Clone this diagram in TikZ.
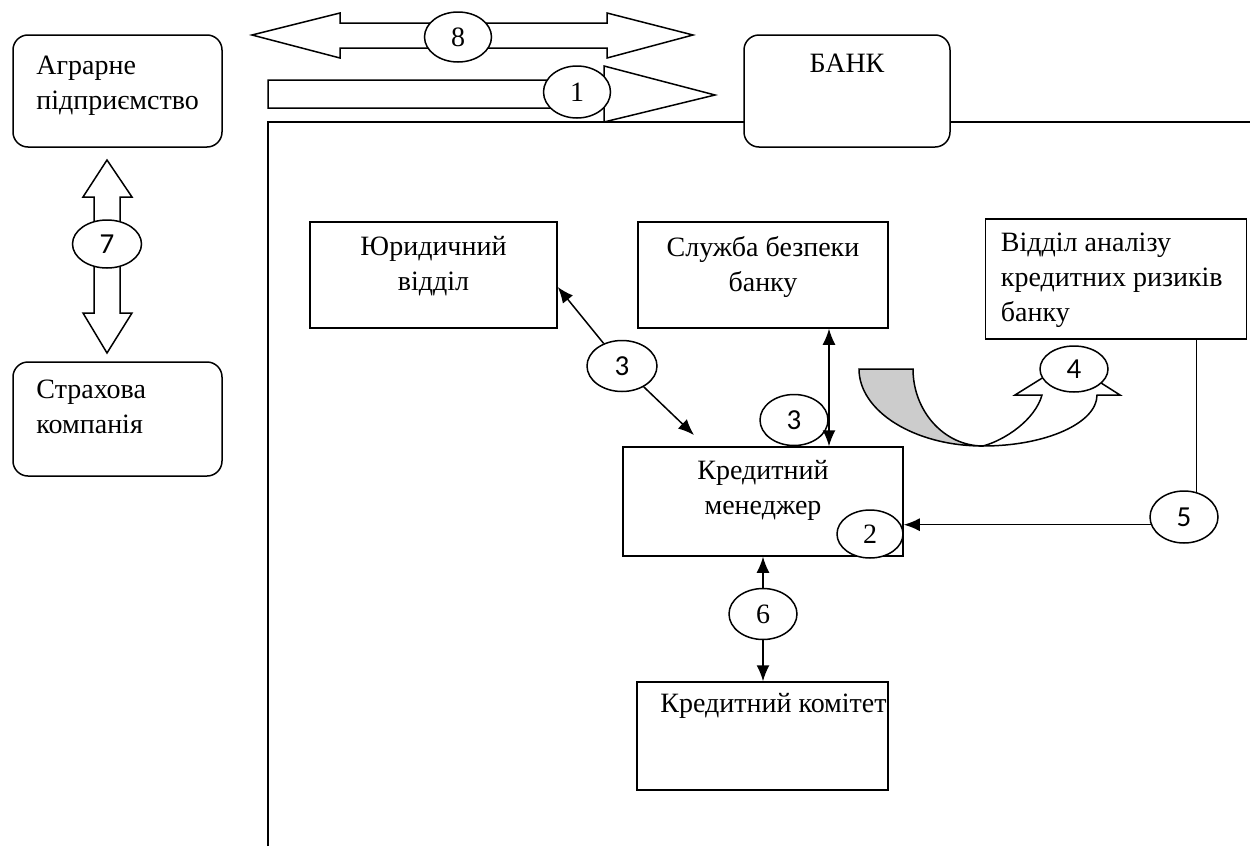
\documentclass[tikz,border=0pt]{standalone}
\usepackage{fontspec}
\setmainfont{Liberation Serif}
\newfontfamily\numsans{Carlito}
\usetikzlibrary{arrows.meta,shapes.geometric}
\begin{document}
\begin{tikzpicture}[x=1pt,y=-1pt,
  every node/.style={font=\fontsize{28}{35}\selectfont},
  lw/.style={line width=1.5pt},
  box/.style={draw, lw, fill=white, inner sep=0pt},
  rbox/.style={box, rounded corners=15pt},
  txt/.style={inner sep=0pt},
  ell/.style={draw, lw, ellipse, fill=white, inner sep=0pt},
  ellsans/.style={ell, font=\numsans\fontsize{29}{35}\selectfont},
  tip/.style={line width=1.5pt, -{Latex[length=16pt,width=13pt]}},
  tips/.style={line width=1.5pt, {Latex[length=16pt,width=13pt]}-{Latex[length=16pt,width=13pt]}},
  barrow/.style={draw, lw, fill=white, line join=miter}
]
\useasboundingbox (0,0) rectangle (1250,846);
\fill[white] (0,0) rectangle (1250,846);

% bank frame
\draw[lw] (268,846) -- (268,122) -- (1250,122);

% block arrows
\path[barrow] (252,35) -- (340,13) -- (340,23) -- (607,23) -- (607,13) -- (693,35)
  -- (607,58) -- (607,48) -- (340,48) -- (340,58) -- cycle;
\path[barrow] (268,80) -- (604,80) -- (604,66) -- (715,95) -- (604,122) -- (604,108) -- (268,108) -- cycle;
\path[barrow] (107,160) -- (132,197) -- (120,197) -- (120,313) -- (132,313) -- (107,353)
  -- (83,313) -- (94,313) -- (94,197) -- (83,197) -- cycle;
% curved arrow 4
\path[draw, lw, fill=gray!40] (859,369) -- (913,369) .. controls (913,411) and (944,446) .. (983,446)
  .. controls (914,446) and (859,411) .. (859,369) -- cycle;
\path[barrow] (983,446) .. controls (1046,446) and (1097,423) .. (1097,395) -- (1120,395) -- (1068,362)
  -- (1015,395) -- (1042,395) .. controls (1035,420) and (1005,440) .. (983,446) -- cycle;

% boxes
\node[rbox, minimum width=209pt, minimum height=112pt] (agr) at (117.5,91) {};
\node[rbox, minimum width=209pt, minimum height=114pt] (str) at (117.5,419) {};
\node[rbox, minimum width=206pt, minimum height=112pt] (bank) at (847,91) {};
\node[box, minimum width=247pt, minimum height=106pt] (jur) at (433.5,275) {};
\node[box, minimum width=250pt, minimum height=106pt] (sl) at (763,275) {};
\node[box, minimum width=261pt, minimum height=120pt] (vid) at (1116,279) {};
\node[box, minimum width=280pt, minimum height=109pt] (mgr) at (763,501.5) {};
\node[box, minimum width=251pt, minimum height=108pt] (kom) at (762.5,736) {};

% texts
\node[txt, anchor=north west, align=left] (agrT) at ([xshift=24pt,yshift=-22pt]agr.north west) {Аграрне\\підприємство};
\node[txt, anchor=north west, align=left] (strT) at ([xshift=24pt,yshift=-19pt]str.north west) {Страхова\\компанія};
\node[txt, anchor=north] (bankT) at ([yshift=-20pt]bank.north) {БАНК};
\node[txt, anchor=north, align=center] (jurT) at ([yshift=-15pt]jur.north) {Юридичний\\відділ};
\node[txt, anchor=north, align=center] (slT) at ([yshift=-15pt]sl.north) {Служба безпеки\\банку};
\node[txt, anchor=north west, align=left] (vidT) at ([xshift=16pt,yshift=-15pt]vid.north west) {Відділ аналізу\\кредитних ризиків\\банку};
\node[txt, anchor=north, align=center] (mgrT) at ([yshift=-14pt]mgr.north) {Кредитний\\менеджер};
\node[txt, anchor=north] (komT) at ([xshift=11pt,yshift=-12pt]kom.north) {Кредитний комітет};

% numbered ellipses
\node[ell, minimum width=67pt, minimum height=50pt] (e8) at (458,37) {8};
\node[ell, minimum width=67pt, minimum height=52pt] (e1) at (577,92) {1};
\node[ellsans, minimum width=69pt, minimum height=48pt] (e7) at (107,244) {7};
\node[ellsans, minimum width=70pt, minimum height=51pt] (e3a) at (622,366) {3};
\node[ellsans, minimum width=68pt, minimum height=51pt] (e3b) at (794,420) {3};
\node[ellsans, minimum width=68pt, minimum height=46pt] (e4) at (1074,369) {4};
\node[ellsans, minimum width=68pt, minimum height=52pt] (e5) at (1184,517) {5};
\node[ell, minimum width=66pt, minimum height=48pt] (e2) at (870,534) {2};
\node[ell, minimum width=68pt, minimum height=51pt] (e6) at (763,614) {6};

% connectors
\coordinate (m3) at (694,435);
\coordinate (c3) at (829,0);
\draw[tip] (e3a) -- ([yshift=-12pt]jur.east);
\draw[tip] (e3a) -- (m3);
\draw[tips] (sl.south -| c3) -- (mgr.north -| c3);
\draw[lw] (vid.south -| e5.63) -- (e5.63);
\draw[tip] (e5.193) -- (e5.193 -| mgr.east);
\draw[tip] (e6) -- (mgr.south);
\draw[tip] (e6) -- (kom.north -| e6);
\end{tikzpicture}
\end{document}
